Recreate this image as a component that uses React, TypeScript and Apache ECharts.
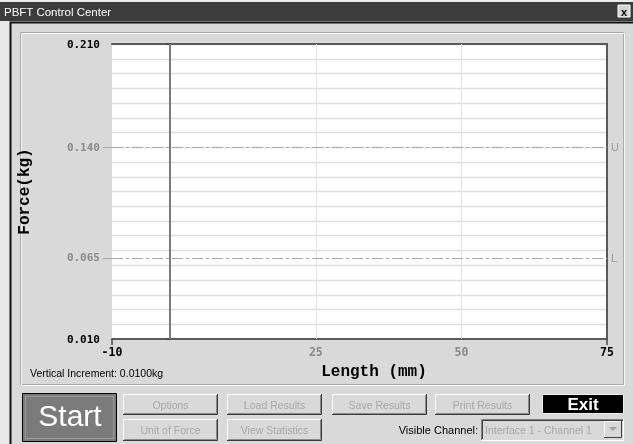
import React, { useEffect, useRef } from "react";
import * as echarts from "echarts";

const W = 633;
const H = 444;

// axis ranges and ticks
const yMin = 0.01;
const yMax = 0.21;
const yIncrement = 0.01;
const xMin = -10;
const xMax = 75;
const yLabelValues = [0.01, 0.065, 0.14, 0.21];
const yStrongValues = [0.01, 0.21];
const yEdgeTicks = [0.01, 0.21];
const xLabelValues = [-10, 25, 50, 75];
const xStrongValues = [-10, 75];
const xEdgeTicks = [-10, 75];
const xGridValues = [25, 50];
const cursorValues = [0];
const limitNames = ["U", "L"];
const limitValues = [0.14, 0.065];

// UI texts
const titleText = "PBFT Control Center";
const incrementText = "Vertical Increment: 0.0100kg";
const topButtons = ["Options", "Load Results", "Save Results", "Print Results"];
const bottomButtons = ["Unit of Force", "View Statistics"];
const channelLabel = "Visible Channel:";
const channelValue = "Interface 1 - Channel 1";

const BG = "#d9d9d9";
const SANS = "'Liberation Sans', Arial, sans-serif";
const MONO = "'Liberation Mono', 'Courier New', monospace";

const isIn = (v: number, arr: number[]) => arr.some((a) => Math.abs(a - v) < 1e-9);

function raisedButton(x: number, y: number, w: number, h: number, label: string) {
  return {
    type: "group",
    silent: true,
    children: [
      { type: "rect", shape: { x, y, width: w, height: h }, style: { fill: BG } },
      { type: "polyline", shape: { points: [[x + 0.5, y + h], [x + 0.5, y + 0.5], [x + w, y + 0.5]] }, style: { stroke: "#ffffff", lineWidth: 1, fill: null } },
      { type: "polyline", shape: { points: [[x, y + h - 0.5], [x + w - 0.5, y + h - 0.5], [x + w - 0.5, y]] }, style: { stroke: "#3a3a3a", lineWidth: 1, fill: null } },
      { type: "polyline", shape: { points: [[x + 1, y + h - 1.5], [x + w - 1.5, y + h - 1.5], [x + w - 1.5, y + 1]] }, style: { stroke: "#8a8a8a", lineWidth: 1, fill: null } },
      {
        type: "text",
        x: x + w / 2,
        y: y + h / 2,
        style: {
          text: label,
          fill: "#a8a8a8",
          font: `10.5px ${SANS}`,
          align: "center",
          verticalAlign: "middle",
          textShadowColor: "#ffffff",
          textShadowOffsetX: 1,
          textShadowOffsetY: 1,
          textShadowBlur: 0,
        },
      },
    ],
  };
}

export default function App() {
  const ref = useRef<HTMLDivElement>(null);

  useEffect(() => {
    if (!ref.current) return;
    const chart = echarts.init(ref.current, undefined, { renderer: "svg", width: W, height: H });

    const yLabelFmt = (v: number) => (isIn(v, yStrongValues) ? `{b|${v.toFixed(3)}}` : `{g|${v.toFixed(3)}}`);
    const xLabelFmt = (v: number) => (isIn(v, xStrongValues) ? `{b|${v}}` : `{g|${v}}`);

    const graphics: any[] = [];
    // window chrome
    graphics.push({ type: "rect", z: -10, silent: true, shape: { x: 0, y: 0, width: W, height: H }, style: { fill: BG } });
    graphics.push({ type: "rect", z: -9, silent: true, shape: { x: 0, y: 0, width: 10, height: H }, style: { fill: "#e9e9e9" } });
    graphics.push({ type: "rect", z: -9, silent: true, shape: { x: 0, y: 0, width: W, height: 2 }, style: { fill: "#ececec" } });
    graphics.push({ type: "rect", silent: true, shape: { x: 0, y: 2, width: W, height: 19 }, style: { fill: "#3c3c3c" } });
    graphics.push({ type: "text", silent: true, x: 4, y: 12, style: { text: titleText, fill: "#ffffff", font: `11.5px ${SANS}`, verticalAlign: "middle" } });
    graphics.push({ type: "rect", silent: true, shape: { x: 618, y: 5, width: 12, height: 12 }, style: { fill: "#d4d4d4", stroke: "#ffffff", lineWidth: 1 } });
    graphics.push({ type: "text", silent: true, x: 624, y: 11.5, style: { text: "x", fill: "#000", font: `bold 11px ${SANS}`, align: "center", verticalAlign: "middle" } });
    graphics.push({ type: "polyline", silent: true, shape: { points: [[10.5, H], [10.5, 22.5], [W, 22.5]] }, style: { stroke: "#111", lineWidth: 2, fill: null } });
    // inner etched panel
    graphics.push({ type: "rect", silent: true, z: -5, shape: { x: 20.5, y: 32.5, width: 603, height: 352 }, style: { fill: null, stroke: "#a9a9a9", lineWidth: 1 } });
    graphics.push({ type: "rect", silent: true, z: -5, shape: { x: 21.5, y: 33.5, width: 603, height: 352 }, style: { fill: null, stroke: "#f6f6f6", lineWidth: 1 } });

    graphics.push({ type: "text", silent: true, x: 30, y: 373, style: { text: incrementText, fill: "#000", font: `10.5px ${SANS}`, verticalAlign: "middle" } });

    // Start button
    graphics.push({ type: "rect", silent: true, shape: { x: 22.5, y: 393.5, width: 94, height: 48 }, style: { fill: "#7b7b7b", stroke: "#000", lineWidth: 1 } });
    graphics.push({ type: "rect", silent: true, shape: { x: 25.5, y: 396.5, width: 88, height: 42 }, style: { fill: null, stroke: "#bdbdbd", lineWidth: 1, lineDash: [1, 1] } });
    graphics.push({ type: "text", silent: true, x: 70, y: 415, style: { text: "Start", fill: "#ffffff", font: `30px ${SANS}`, align: "center", verticalAlign: "middle" } });

    const topX = [123, 227, 332, 435];
    topButtons.forEach((b, i) => graphics.push(raisedButton(topX[i], 394, 95, 21, b)));
    const botX = [123, 227];
    bottomButtons.forEach((b, i) => graphics.push(raisedButton(botX[i], 419, 95, 22, b)));

    // Exit
    graphics.push({ type: "rect", silent: true, shape: { x: 542.5, y: 394.5, width: 81, height: 19 }, style: { fill: "#000", stroke: "#f0f0f0", lineWidth: 1 } });
    graphics.push({ type: "text", silent: true, x: 583, y: 404.5, style: { text: "Exit", fill: "#ffffff", font: `bold 17px ${SANS}`, align: "center", verticalAlign: "middle" } });

    // Visible channel
    graphics.push({ type: "text", silent: true, x: 478, y: 430, style: { text: channelLabel, fill: "#000", font: `11px ${SANS}`, align: "right", verticalAlign: "middle" } });
    graphics.push({ type: "rect", silent: true, shape: { x: 481, y: 419, width: 143, height: 21 }, style: { fill: BG } });
    graphics.push({ type: "polyline", silent: true, shape: { points: [[481.5, 440], [481.5, 419.5], [624, 419.5]] }, style: { stroke: "#808080", lineWidth: 1, fill: null } });
    graphics.push({ type: "polyline", silent: true, shape: { points: [[482.5, 439], [482.5, 420.5], [623, 420.5]] }, style: { stroke: "#404040", lineWidth: 1, fill: null } });
    graphics.push({ type: "polyline", silent: true, shape: { points: [[481, 440.5], [623.5, 440.5], [623.5, 419]] }, style: { stroke: "#ffffff", lineWidth: 1, fill: null } });
    graphics.push({ type: "text", silent: true, x: 485, y: 430, style: { text: channelValue, fill: "#a8a8a8", font: `10.5px ${SANS}`, verticalAlign: "middle", textShadowColor: "#fff", textShadowOffsetX: 1, textShadowOffsetY: 1 } });
    graphics.push({ type: "rect", silent: true, shape: { x: 604, y: 421, width: 18, height: 17 }, style: { fill: BG } });
    graphics.push({ type: "polyline", silent: true, shape: { points: [[604.5, 438], [604.5, 421.5], [622, 421.5]] }, style: { stroke: "#ffffff", lineWidth: 1, fill: null } });
    graphics.push({ type: "polyline", silent: true, shape: { points: [[604, 437.5], [621.5, 437.5], [621.5, 421]] }, style: { stroke: "#404040", lineWidth: 1, fill: null } });
    graphics.push({ type: "polygon", silent: true, shape: { points: [[609, 427], [617, 427], [613, 431]] }, style: { fill: "#a0a0a0" } });

    const markData: any[] = [];
    xGridValues.forEach((v) => markData.push({ xAxis: v, lineStyle: { color: "#e2e2e2", width: 1, type: "solid" }, label: { show: false } }));
    cursorValues.forEach((v) => markData.push({ xAxis: v, lineStyle: { color: "#7a7a7a", width: 2, type: "solid" }, label: { show: false } }));
    limitValues.forEach((v, i) =>
      markData.push({
        yAxis: v,
        lineStyle: { color: "#a9a9a9", width: 1.2, type: [11, 3, 3, 3] },
        label: { show: true, position: "end", formatter: limitNames[i], color: "#9a9a9a", fontFamily: SANS, fontSize: 11, distance: 4 },
      })
    );

    chart.setOption({
      animation: false,
      backgroundColor: "transparent",
      graphic: { elements: graphics },
      grid: { left: 112, right: W - 607, top: 44, bottom: H - 339, show: true, backgroundColor: "#ffffff", borderWidth: 0, containLabel: false },
      xAxis: [
        {
          type: "value",
          min: xMin,
          max: xMax,
          position: "bottom",
          axisLine: { show: true, lineStyle: { color: "#5a5a5a", width: 2 } },
          axisTick: { show: true, customValues: xEdgeTicks, length: 6, lineStyle: { color: "#4a4a4a", width: 1.5 } },
          axisLabel: {
            customValues: xLabelValues,
            margin: 7,
            formatter: xLabelFmt,
            rich: {
              b: { color: "#000", fontFamily: "'DejaVu Sans Mono', monospace", fontWeight: "bold", fontSize: 11.5 },
              g: { color: "#8a8a8a", fontFamily: "'DejaVu Sans Mono', monospace", fontWeight: "bold", fontSize: 11.5 },
            },
          },
          splitLine: { show: false },
          name: "Length (mm)",
          nameLocation: "middle",
          nameGap: 25,
          nameTextStyle: { color: "#000", fontFamily: MONO, fontWeight: "bold", fontSize: 16, padding: [0, 0, 0, 29] },
        },
        {
          type: "value",
          min: xMin,
          max: xMax,
          position: "top",
          axisLine: { show: true, lineStyle: { color: "#5a5a5a", width: 2 } },
          axisTick: { show: false },
          axisLabel: { show: false },
          splitLine: { show: false },
        },
      ],
      yAxis: [
        {
          type: "value",
          min: yMin,
          max: yMax,
          interval: yIncrement,
          position: "left",
          axisLine: { show: false },
          axisTick: { show: false },
          axisLabel: { show: false },
          splitLine: { show: true, lineStyle: { color: "#e0e0e0", width: 1.3 } },
        },
        {
          type: "value",
          min: yMin,
          max: yMax,
          position: "left",
          axisLine: { show: true, lineStyle: { color: "#000", width: 1 } },
          axisTick: { show: true, customValues: yEdgeTicks, length: 5, lineStyle: { color: "#4a4a4a", width: 1.5 } },
          axisLabel: {
            customValues: yLabelValues,
            margin: 12,
            formatter: yLabelFmt,
            rich: {
              b: { color: "#000", fontFamily: "'DejaVu Sans Mono', monospace", fontWeight: "bold", fontSize: 11 },
              g: { color: "#8a8a8a", fontFamily: "'DejaVu Sans Mono', monospace", fontWeight: "bold", fontSize: 11 },
            },
          },
          splitLine: { show: false },
          name: "Force(kg)",
          nameLocation: "middle",
          nameGap: 79,
          nameRotate: 90,
          nameTextStyle: { color: "#000", fontFamily: MONO, fontWeight: "bold", fontSize: 16 },
        },
        {
          type: "value",
          min: yMin,
          max: yMax,
          position: "left",
          axisLine: { show: false },
          axisTick: { show: true, customValues: limitValues, length: 9, lineStyle: { color: "#a9a9a9", width: 1 } },
          axisLabel: { show: false },
          splitLine: { show: false },
        },
        {
          type: "value",
          min: yMin,
          max: yMax,
          position: "right",
          axisLine: { show: true, lineStyle: { color: "#5a5a5a", width: 2 } },
          axisTick: { show: false },
          axisLabel: { show: false },
          splitLine: { show: false },
        },
      ],
      series: [
        {
          type: "line",
          xAxisIndex: 0,
          yAxisIndex: 0,
          data: [],
          silent: true,
          markLine: { silent: true, symbol: "none", precision: 4, animation: false, data: markData },
        },
      ],
    });

    return () => chart.dispose();
  }, []);

  return <div ref={ref} style={{ position: "fixed", left: 0, top: 0, width: W, height: H }} />;
}
